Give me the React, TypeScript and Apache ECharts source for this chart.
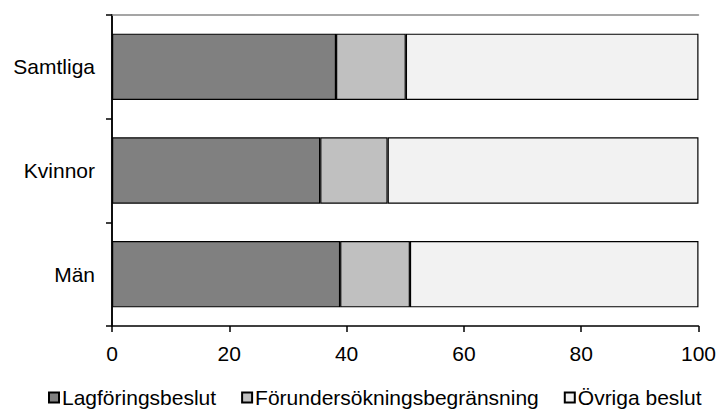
import React, { useEffect, useRef } from "react";
import * as echarts from "echarts";

const categories = ["Samtliga", "Kvinnor", "Män"];
const seriesNames = ["Lagföringsbeslut", "Förundersökningsbegränsning", "Övriga beslut"];
const lagforing = [38.2, 35.5, 38.9];
const forundersokning = [11.9, 11.5, 11.9];
const ovriga = [49.9, 53.0, 49.2];
const xTicks = [0, 20, 40, 60, 80, 100];
const colors = ["#808080", "#c0c0c0", "#f2f2f2"];

export default function App() {
  const ref = useRef<HTMLDivElement>(null);
  useEffect(() => {
    if (!ref.current) return;
    const chart = echarts.init(ref.current, undefined, { renderer: "svg" });
    const font = "'Liberation Sans', Arial, sans-serif";
    const values = [lagforing, forundersokning, ovriga];
    chart.setOption({
      animation: false,
      textStyle: { fontFamily: font },
      grid: { left: 112, right: 17, top: 15, bottom: 86 },
      legend: {
        top: 387,
        left: 48,
        padding: 0,
        itemWidth: 10,
        itemHeight: 10,
        itemGap: 25,
        icon: "rect",
        textStyle: { fontSize: 21, color: "#000", fontFamily: font, padding: [0, 0, 0, -2] },
        data: seriesNames,
      },
      xAxis: [
        {
          type: "value",
          min: xTicks[0],
          max: xTicks[xTicks.length - 1],
          interval: 20,
          axisLine: { show: true, lineStyle: { color: "#000", width: 1.5 } },
          axisTick: { show: true, length: 6, lineStyle: { color: "#000", width: 1.5 } },
          axisLabel: { fontSize: 21, color: "#000", margin: 17, fontFamily: font },
          splitLine: { show: false },
        },
        {
          type: "value",
          position: "top",
          min: 0,
          max: 100,
          axisLine: { show: true, lineStyle: { color: "#888", width: 1.5 } },
          axisTick: { show: false },
          axisLabel: { show: false },
          splitLine: { show: false },
        },
      ],
      yAxis: [
        {
          type: "category",
          inverse: true,
          data: categories,
          axisLine: { show: true, lineStyle: { color: "#000", width: 1.5 } },
          axisTick: { show: true, length: 6, lineStyle: { color: "#000", width: 1.5 } },
          axisLabel: { fontSize: 21, color: "#000", margin: 17, fontFamily: font },
        },
        {
          type: "category",
          inverse: true,
          position: "right",
          data: categories,
          axisLine: { show: true, lineStyle: { color: "#000", width: 1.5 } },
          axisTick: { show: false },
          axisLabel: { show: false },
        },
      ],
      series: seriesNames.map((name, i) => ({
        name,
        type: "bar",
        stack: "total",
        xAxisIndex: 0,
        yAxisIndex: 0,
        barWidth: "64%",
        data: values[i],
        itemStyle: { color: colors[i], borderColor: "#000", borderWidth: 1.2 },
      })),
    });
    return () => chart.dispose();
  }, []);
  return (
    <div
      ref={ref}
      style={{ position: "fixed", left: 0, top: 0, width: 719, height: 412, background: "#fff" }}
    />
  );
}
